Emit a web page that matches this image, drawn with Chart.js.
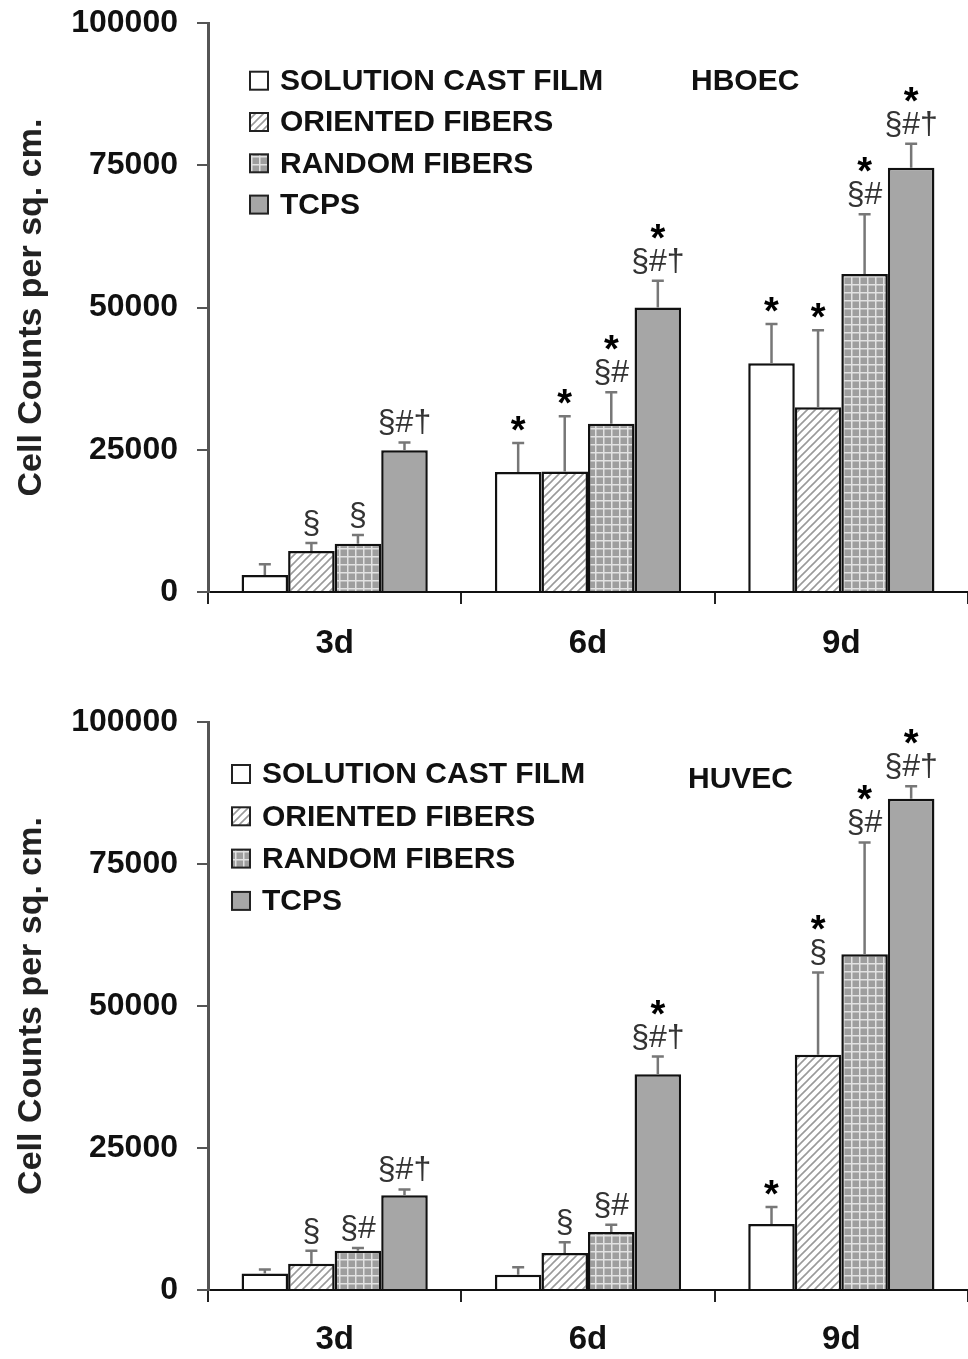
<!DOCTYPE html>
<html><head><meta charset="utf-8">
<script src="https://cdn.jsdelivr.net/npm/chart.js@4.4.1/dist/chart.umd.min.js"></script>
<style>
html,body{margin:0;padding:0;background:#fff;overflow:hidden;}
#c1{position:absolute;left:0;top:-15px;}
#c2{position:absolute;left:0;top:680px;}
</style>
</head><body>
<canvas id="c1" width="968" height="680"></canvas>
<canvas id="c2" width="968" height="679"></canvas>
<script>
// ---------- data ----------
const days = ['3d', '6d', '9d'];
const seriesNames = ['SOLUTION CAST FILM', 'ORIENTED FIBERS', 'RANDOM FIBERS', 'TCPS'];
const yTitle = 'Cell Counts per sq. cm.';
const yTickValues = [0, 25000, 50000, 75000, 100000];

// HBOEC (top panel)
const hboecFilm     = [3000, 21100, 40200];
const hboecOriented = [7200, 21200, 32500];
const hboecRandom   = [8500, 29600, 55900];
const hboecTcps     = [24900, 50000, 74600];
const hboecFilmErr     = [1900, 5100, 6900];
const hboecOrientedErr = [1400, 9700, 13500];
const hboecRandomErr   = [1500, 5500, 10500];
const hboecTcpsErr     = [1400, 4700, 4200];
const hboecStars   = [['', '*', '*'], ['', '*', '*'], ['', '*', '*'], ['', '*', '*']];
const hboecSymbols = [['', '', ''], ['§', '', ''], ['§', '§#', '§#'], ['§#†', '§#†', '§#†']];

// HUVEC (bottom panel)
const huvecFilm     = [2900, 2700, 11600];
const huvecOriented = [4600, 6500, 41400];
const huvecRandom   = [6900, 10200, 59100];
const huvecTcps     = [16700, 38000, 86500];
const huvecFilmErr     = [700, 1300, 3000];
const huvecOrientedErr = [2300, 1900, 14500];
const huvecRandomErr   = [500, 1300, 19700];
const huvecTcpsErr     = [1000, 3100, 2200];
const huvecStars   = [['', '', '*'], ['', '', '*'], ['', '', '*'], ['', '*', '*']];
const huvecSymbols = [['', '', ''], ['§', '§', '§'], ['§#', '§#', '§#'], ['§#†', '§#†', '§#†']];

// ---------- styles ----------
const FONT = '"Liberation Sans", Arial, Helvetica, sans-serif';
Chart.defaults.font.family = FONT;

function hatchFill() {
  const c = document.createElement('canvas'); c.width = 8; c.height = 8;
  const g = c.getContext('2d');
  g.fillStyle = '#ffffff'; g.fillRect(0, 0, 8, 8);
  g.strokeStyle = '#9a9a9a'; g.lineWidth = 1.6; g.lineCap = 'square';
  g.beginPath();
  g.moveTo(0, 8); g.lineTo(8, 0);
  g.moveTo(-2, 2); g.lineTo(2, -2);
  g.moveTo(6, 10); g.lineTo(10, 6);
  g.stroke();
  return g.createPattern(c, 'repeat');
}
function gridFill() {
  const c = document.createElement('canvas'); c.width = 8; c.height = 8;
  const g = c.getContext('2d');
  g.fillStyle = '#9e9e9e'; g.fillRect(0, 0, 8, 8);
  g.fillStyle = '#e2e2e2';
  g.fillRect(3, 0, 1.5, 8);
  g.fillRect(0, 3, 8, 1.5);
  return g.createPattern(c, 'repeat');
}
const fills = ['#ffffff', hatchFill(), gridFill(), '#a6a6a6'];

// ---------- plugins ----------
const errorBarPlugin = {
  id: 'errbars',
  afterDatasetsDraw(chart, args, opts) {
    const ctx = chart.ctx, ys = chart.scales.y;
    ctx.save();
    ctx.strokeStyle = '#777'; ctx.lineWidth = 2.5;
    chart.data.datasets.forEach((ds, i) => {
      const meta = chart.getDatasetMeta(i);
      meta.data.forEach((el, j) => {
        const yTop = ys.getPixelForValue(ds.data[j] + opts.errors[i][j]);
        ctx.beginPath();
        ctx.moveTo(el.x, el.y); ctx.lineTo(el.x, yTop);
        ctx.moveTo(el.x - 6, yTop); ctx.lineTo(el.x + 6, yTop);
        ctx.stroke();
      });
    });
    ctx.restore();
  }
};

const annotPlugin = {
  id: 'annot',
  afterDatasetsDraw(chart, args, opts) {
    const ctx = chart.ctx, ys = chart.scales.y;
    ctx.save();
    ctx.textAlign = 'center'; ctx.textBaseline = 'alphabetic';
    chart.data.datasets.forEach((ds, i) => {
      const meta = chart.getDatasetMeta(i);
      meta.data.forEach((el, j) => {
        const yE = ys.getPixelForValue(ds.data[j] + opts.errors[i][j]);
        const sym = opts.symbols[i][j], star = opts.stars[i][j];
        if (sym) {
          ctx.font = 'normal 32px ' + FONT; ctx.fillStyle = '#333';
          ctx.fillText(sym, el.x, yE - 19 + 9);
        }
        if (star) {
          const c = sym ? yE - 51 : yE - 21;
          ctx.font = 'bold 38px ' + FONT; ctx.fillStyle = '#000';
          ctx.fillText(star, el.x, c + 21);
        }
      });
    });
    ctx.restore();
  }
};

const legendPlugin = {
  id: 'boxlegend',
  afterDraw(chart, args, opts) {
    const ctx = chart.ctx;
    ctx.save();
    chart.data.datasets.forEach((ds, i) => {
      const cy = opts.y + i * opts.gap;
      ctx.fillStyle = ds.backgroundColor;
      ctx.fillRect(opts.x, cy - 9, 18, 18);
      ctx.strokeStyle = '#222'; ctx.lineWidth = 2;
      ctx.strokeRect(opts.x, cy - 9, 18, 18);
      ctx.fillStyle = '#111';
      ctx.font = 'bold 30px ' + FONT;
      ctx.textAlign = 'left'; ctx.textBaseline = 'middle';
      ctx.fillText(ds.label, opts.x + 30, cy + 1);
    });
    ctx.font = 'bold 30px ' + FONT;
    ctx.textAlign = 'left'; ctx.textBaseline = 'middle';
    ctx.fillStyle = '#111';
    ctx.fillText(opts.tag, opts.tagX, opts.tagY + 1);
    ctx.restore();
  }
};

function makeChart(id, p) {
  const values = [p.film, p.oriented, p.random, p.tcps];
  return new Chart(document.getElementById(id).getContext('2d'), {
    type: 'bar',
    data: {
      labels: days,
      datasets: values.map((v, i) => ({
        label: seriesNames[i], data: v, backgroundColor: fills[i],
        borderColor: '#111', borderWidth: 2.5, borderSkipped: 'bottom',
        categoryPercentage: 0.735, barPercentage: 1.0
      }))
    },
    options: {
      responsive: false, animation: false, devicePixelRatio: 1,
      layout: { padding: { top: p.top, left: 0, right: 0, bottom: 0 } },
      plugins: {
        legend: { display: false }, tooltip: { enabled: false },
        errbars: { errors: p.errors },
        annot: { errors: p.errors, stars: p.stars, symbols: p.symbols },
        boxlegend: { x: p.legX, y: p.legY, gap: p.legGap, tag: p.tag, tagX: p.tagX, tagY: p.tagY }
      },
      scales: {
        x: {
          offset: true,
          grid: { display: true, offset: true, drawOnChartArea: false, drawTicks: true, tickLength: 12, color: '#222', lineWidth: 2 },
          border: { color: '#111', width: 2 },
          ticks: { font: { size: 33, weight: 'bold' }, color: '#111', padding: p.xPad },
          afterFit: s => { s.height = p.xH; }
        },
        y: {
          min: 0, max: 100000,
          afterBuildTicks: s => { s.ticks = yTickValues.map(v => ({ value: v })); },
          ticks: { font: { size: 32, weight: 'bold' }, color: '#111', padding: 19, callback: v => String(v) },
          grid: { display: true, drawOnChartArea: false, drawTicks: true, tickLength: 11, color: '#555', lineWidth: 2 },
          border: { color: '#555', width: 3 },
          title: { display: true, text: yTitle, font: { size: 34, weight: 'bold' }, color: '#222', padding: { top: 11, bottom: 0 } },
          afterFit: s => { s.width = 208; }
        }
      }
    },
    plugins: [errorBarPlugin, annotPlugin, legendPlugin]
  });
}

// top canvas is placed 15px above the page top
makeChart('c1', {
  film: hboecFilm, oriented: hboecOriented, random: hboecRandom, tcps: hboecTcps,
  errors: [hboecFilmErr, hboecOrientedErr, hboecRandomErr, hboecTcpsErr],
  stars: hboecStars, symbols: hboecSymbols,
  top: 0, xH: 73, xPad: 20,
  legX: 250, legY: 95.7, legGap: 41.3, tag: 'HBOEC', tagX: 691, tagY: 96
});
makeChart('c2', {
  film: huvecFilm, oriented: huvecOriented, random: huvecRandom, tcps: huvecTcps,
  errors: [huvecFilmErr, huvecOrientedErr, huvecRandomErr, huvecTcpsErr],
  stars: huvecStars, symbols: huvecSymbols,
  top: 42, xH: 69, xPad: 18,
  legX: 232, legY: 94, legGap: 42.3, tag: 'HUVEC', tagX: 688, tagY: 99
});
</script>
</body></html>
